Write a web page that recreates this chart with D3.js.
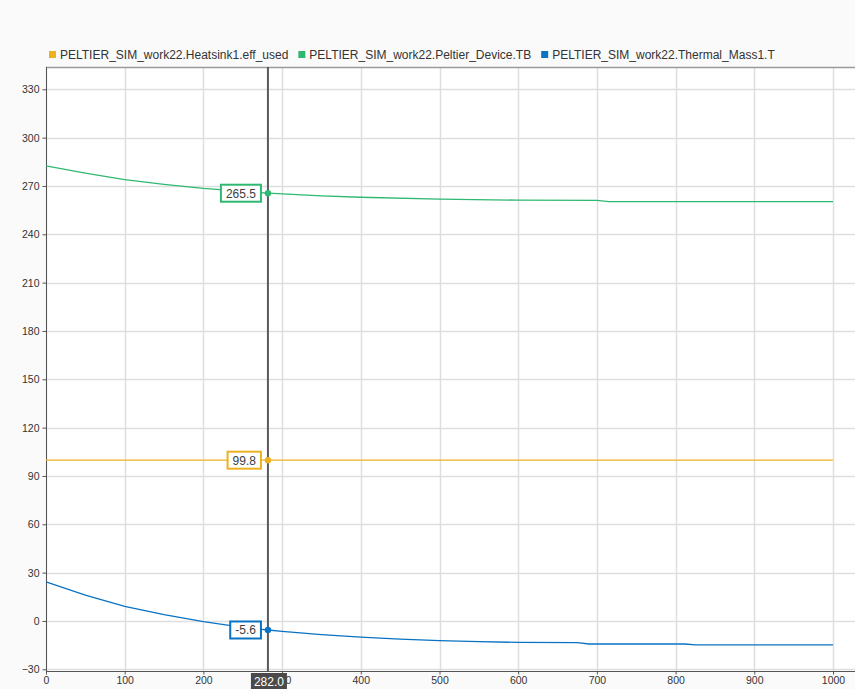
<!DOCTYPE html>
<html>
<head>
<meta charset="utf-8">
<script src="https://cdnjs.cloudflare.com/ajax/libs/d3/7.8.5/d3.min.js"></script>
<style>
  body { margin: 0; background: #fafafa; }
  svg { display: block; font-family: "Liberation Sans", Arial, sans-serif; }
</style>
</head>
<body>
<div id="chart"></div>
<script>
"use strict";

// == DATA ==
var seriesNames = ["PELTIER_SIM_work22.Heatsink1.eff_used",
                   "PELTIER_SIM_work22.Peltier_Device.TB",
                   "PELTIER_SIM_work22.Thermal_Mass1.T"];
var seriesColors = ["#edb120", "#2fb871", "#0a72c2"];

var heatTime = [0, 1000];
var heatVal  = [99.8, 99.8];

var tbTime = [0, 50, 100, 150, 200, 250, 282, 350, 400, 500, 600, 700, 715, 1000];
var tbVal  = [282.5, 278, 274, 271, 268.5, 266.6, 265.5, 263.8, 263, 261.8, 261.2, 261, 260.3, 260.3];

var tmTime = [0, 50, 100, 150, 200, 250, 282, 300, 350, 400, 450, 500, 550, 600, 675, 690, 812, 825, 1000];
var tmVal  = [24.2, 16, 9, 4, -0.4, -4, -5.6, -6.5, -8.5, -10, -11.3, -12.2, -12.8, -13.3, -13.5, -14.3, -14.3, -14.9, -14.9];

var xTicks = [0, 100, 200, 300, 400, 500, 600, 700, 800, 900, 1000];
var yTicks = [-30, 0, 30, 60, 90, 120, 150, 180, 210, 240, 270, 300, 330];

var cursorT = 282;
var cursorVals = [99.8, 265.5, -5.6];

// == BOILERPLATE ==
var W = 855, H = 689;
var margin = { top: 67, right: 0, bottom: 17, left: 46 };

var svg = d3.select("#chart").append("svg")
            .attr("width", W)
            .attr("height", H);

svg.append("rect").attr("width", W).attr("height", H).attr("fill", "#fafafa");

var x = d3.scaleLinear().domain([0, 1000]).range([46, 833]);
var y = d3.scaleLinear().domain([-30, 330]).range([669.3, 89.3]);

var plotBottom = H - margin.bottom - 0.5;

// plot background
svg.append("rect")
   .attr("x", margin.left).attr("y", margin.top)
   .attr("width", W - margin.left).attr("height", plotBottom - margin.top)
   .attr("fill", "#ffffff");

// grid
svg.append("g").selectAll("line").data(yTicks).enter().append("line")
   .attr("x1", margin.left).attr("x2", W)
   .attr("y1", function (d) { return Math.round(y(d)) + 0.5; })
   .attr("y2", function (d) { return Math.round(y(d)) + 0.5; })
   .attr("stroke", "#dedede").attr("stroke-width", 1.5);

svg.append("g").selectAll("line").data(xTicks).enter().append("line")
   .attr("y1", margin.top).attr("y2", plotBottom)
   .attr("x1", function (d) { return Math.round(x(d)) + 0.5; })
   .attr("x2", function (d) { return Math.round(x(d)) + 0.5; })
   .attr("stroke", "#dedede").attr("stroke-width", 1.5);

// top border
svg.append("line")
   .attr("x1", margin.left).attr("x2", W)
   .attr("y1", margin.top + 0.5).attr("y2", margin.top + 0.5)
   .attr("stroke", "#9a9a9a").attr("stroke-width", 1.5);

// axes
var yAxis = d3.axisLeft(y).tickValues(yTicks).tickSize(4).tickPadding(3);
var gy = svg.append("g")
   .attr("transform", "translate(" + (margin.left + 0.5) + ",0)")
   .call(yAxis);
gy.select(".domain").attr("d", "M0," + margin.top + "V" + plotBottom).attr("stroke", "#555");

var xAxis = d3.axisBottom(x).tickValues(xTicks).tickFormat(d3.format("d")).tickSize(3).tickPadding(2);
var gx = svg.append("g")
   .attr("transform", "translate(0," + plotBottom + ")")
   .call(xAxis);
gx.select(".domain").attr("d", "M" + margin.left + ",0H" + W).attr("stroke", "#555");

[gx, gy].forEach(function (g) {
  g.selectAll(".tick line").attr("stroke", "#555");
  g.selectAll(".tick text").attr("fill", "#333").attr("font-size", "10.5px");
});

// lines
var series = [
  { times: heatTime, vals: heatVal },
  { times: tbTime, vals: tbVal },
  { times: tmTime, vals: tmVal }
];

var line = d3.line()
  .x(function (d) { return x(d[0]); })
  .y(function (d) { return y(d[1]); });

series.forEach(function (s, i) {
  var pts = d3.zip(s.times, s.vals);
  svg.append("path")
     .datum(pts)
     .attr("d", line)
     .attr("fill", "none")
     .attr("stroke", seriesColors[i])
     .attr("stroke-width", 1.3);
});

// cursor
var cx = x(cursorT);
svg.append("line")
   .attr("x1", cx).attr("x2", cx)
   .attr("y1", margin.top).attr("y2", plotBottom)
   .attr("stroke", "#5a5a5a").attr("stroke-width", 2);

cursorVals.forEach(function (v, i) {
  var cy = y(v);
  svg.append("circle").attr("cx", cx).attr("cy", cy).attr("r", 3.2)
     .attr("fill", seriesColors[i]);
  var t = svg.append("text")
     .attr("x", cx - 25).attr("y", cy + 4.5)
     .attr("text-anchor", "middle")
     .attr("font-size", "12px").attr("fill", "#404040")
     .text(v.toFixed(1));
  var bw = t.node().getComputedTextLength() + 10;
  t.attr("x", cx - 7 - bw / 2);
  svg.insert("rect", function () { return t.node(); })
     .attr("x", cx - 7 - bw).attr("y", cy - 8.5)
     .attr("width", bw).attr("height", 17)
     .attr("fill", "#fff")
     .attr("stroke", seriesColors[i]).attr("stroke-width", 2);
});

// cursor time label (sits over the 300 tick label, as in the source)
var ct = svg.append("text")
   .attr("x", cx + 1).attr("y", H - 3)
   .attr("text-anchor", "middle")
   .attr("font-size", "12px").attr("fill", "#fff")
   .text(cursorT.toFixed(1));
var cw = ct.node().getComputedTextLength() + 6;
svg.insert("rect", function () { return ct.node(); })
   .attr("x", cx + 1 - cw / 2).attr("y", H - 16)
   .attr("width", cw).attr("height", 16)
   .attr("fill", "#4a4a4a");

// legend
var lg = svg.append("g").attr("transform", "translate(49,55)");
var lx = 0;
seriesNames.forEach(function (name, i) {
  lg.append("rect").attr("x", lx).attr("y", -4).attr("width", 7).attr("height", 7)
    .attr("fill", seriesColors[i]);
  var txt = lg.append("text").attr("x", lx + 11).attr("y", 4)
    .attr("font-size", "12px").attr("fill", "#333").text(name);
  lx += 11 + txt.node().getComputedTextLength() + 10;
});
</script>
</body>
</html>
